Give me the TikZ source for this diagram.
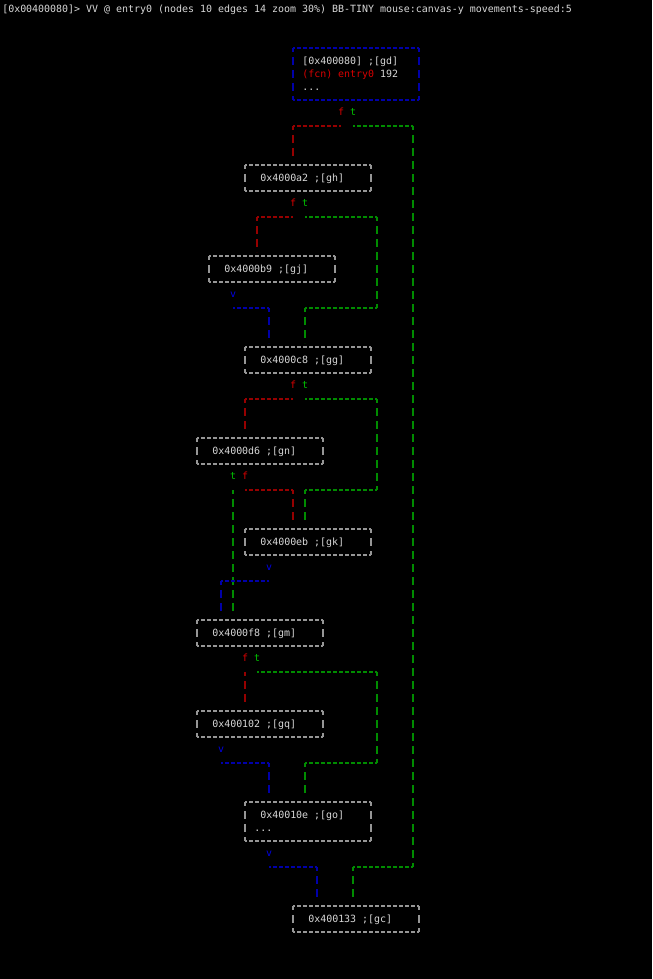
\documentclass[tikz,border=0pt]{standalone}
\usepackage{fontspec}
\setmonofont{DejaVu Sans Mono}
\usetikzlibrary{calc}
\definecolor{txtc}{RGB}{215,215,215}
\definecolor{boxc}{RGB}{150,150,150}
\definecolor{flc}{RGB}{150,0,0}
\definecolor{ftc}{RGB}{215,0,0}
\definecolor{tlc}{RGB}{0,140,0}
\definecolor{ttc}{RGB}{0,190,0}
\definecolor{vlc}{RGB}{0,0,170}
\definecolor{vtc}{RGB}{0,0,230}
\newcommand{\tfont}{\ttfamily\fontsize{7.47pt}{9pt}\selectfont}

\begin{document}
\begin{tikzpicture}[x=4.5pt, y=-9.75pt,
  lbl/.style={anchor=mid west, inner sep=0pt, yshift=-0.75pt, font=\tfont, text=txtc},
  tag/.style={anchor=mid, inner sep=0pt, font=\tfont},
  ft/.style={tag, text=ftc}, tt/.style={tag, text=ttc}, vt/.style={tag, text=vtc},
  blk/.style={anchor=north west, inner sep=0pt, outer sep=0pt,
    minimum width=94.5pt, minimum height=19.5pt},
  hd/.style={dash pattern=on 3pt off 1.5pt, dash phase=1.5pt},
  vd/.style={dash pattern=on 6pt off 3.75pt, dash phase=3pt},
  toblk/.style={shorten >=3pt},
  fe/.style={flc, line width=0.8pt},
  te/.style={tlc, line width=0.8pt},
  ve/.style={vlc, line width=0.8pt},
  bx/.style={line width=0.8pt}]

\useasboundingbox (-0.333,-0.692) rectangle (108.333,74.615);
\fill[black] (-0.333,-0.692) rectangle (108.333,74.615);

\node[lbl] (hdr) at (0,0) {[0x00400080]> VV @ entry0 (nodes 10 edges 14 zoom 30\%) BB-TINY mouse:canvas-y movements-speed:5};

% ---- blocks ----
\node[blk, minimum height=39pt] (gd) at (48.5,3) {};
\node[blk] (gh) at (40.5,12) {};
\node[blk] (gj) at (34.5,19) {};
\node[blk] (gg) at (40.5,26) {};
\node[blk] (gn) at (32.5,33) {};
\node[blk] (gk) at (40.5,40) {};
\node[blk] (gm) at (32.5,47) {};
\node[blk] (gq) at (32.5,54) {};
\node[blk, minimum height=29.25pt] (go) at (40.5,61) {};
\node[blk] (gc) at (48.5,69) {};

\foreach \b/\c in {gd/vlc, gh/boxc, gj/boxc, gg/boxc, gn/boxc, gk/boxc,
                   gm/boxc, gq/boxc, go/boxc, gc/boxc} {
  \draw[bx, \c, hd] (\b.north west) -- (\b.north east) (\b.south west) -- (\b.south east);
  \draw[bx, \c, vd] (\b.north west) -- (\b.south west) (\b.north east) -- (\b.south east);
}

\node[lbl] (gdl1) at (50,4) {[0x400080] ;[gd]};
\node[lbl] (gdl2) at (50,5) {\textcolor{ftc}{(fcn) entry0} 192};
\node[lbl] (gdl3) at (50,6) {...};
\node[lbl] (ghl) at (43,13) {0x4000a2 ;[gh]};
\node[lbl] (gjl) at (37,20) {0x4000b9 ;[gj]};
\node[lbl] (ggl) at (43,27) {0x4000c8 ;[gg]};
\node[lbl] (gnl) at (35,34) {0x4000d6 ;[gn]};
\node[lbl] (gkl) at (43,41) {0x4000eb ;[gk]};
\node[lbl] (gml) at (35,48) {0x4000f8 ;[gm]};
\node[lbl] (gql) at (35,55) {0x400102 ;[gq]};
\node[lbl] (gol1) at (43,62) {0x40010e ;[go]};
\node[lbl] (gol2) at (42,63) {...};
\node[lbl] (gcl) at (51,70) {0x400133 ;[gc]};

% ---- branch tags ----
\node[ft] (fgd) at (56.5,8) {f};
\node[tt] (tgd) at (58.5,8) {t};
\node[ft] (fgh) at (48.5,15) {f};
\node[tt] (tgh) at (50.5,15) {t};
\node[vt] (vgj) at (38.5,22) {v};
\node[ft] (fgg) at (48.5,29) {f};
\node[tt] (tgg) at (50.5,29) {t};
\node[tt] (tgn) at (38.5,36) {t};
\node[ft] (fgn) at (40.5,36) {f};
\node[vt] (vgk) at (44.5,43) {v};
\node[ft] (fgm) at (40.5,50) {f};
\node[tt] (tgm) at (42.5,50) {t};
\node[vt] (vgq) at (36.5,57) {v};
\node[vt] (vgo) at (44.5,65) {v};

% ---- edges ----
\draw[fe, hd] (fgd.mid) ++(0,1) -- ++(-8,0) coordinate (e1);
\draw[fe, vd, toblk] (e1) -- (e1 |- gh.north);

\draw[te, hd] (tgd.mid) ++(0,1) -- ++(10,0) coordinate (e2a);
\draw[te, vd] (e2a) -- ++(0,57) coordinate (e2b);
\draw[te, hd] (e2b) -- ++(-10,0) coordinate (e2c);
\draw[te, vd, toblk] (e2c) -- (e2c |- gc.north);

\draw[fe, hd] (fgh.mid) ++(0,1) -- ++(-6,0) coordinate (e3);
\draw[fe, vd, toblk] (e3) -- (e3 |- gj.north);

\draw[te, hd] (tgh.mid) ++(0,1) -- ++(12,0) coordinate (e4a);
\draw[te, vd] (e4a) -- ++(0,7) coordinate (e4b);
\draw[te, hd] (e4b) -- ++(-12,0) coordinate (e4c);
\draw[te, vd, toblk] (e4c) -- (e4c |- gg.north);

\draw[ve, hd] (vgj.mid) ++(0,1) -- ++(6,0) coordinate (e5);
\draw[ve, vd, toblk] (e5) -- (e5 |- gg.north);

\draw[fe, hd] (fgg.mid) ++(0,1) -- ++(-8,0) coordinate (e6);
\draw[fe, vd, toblk] (e6) -- (e6 |- gn.north);

\draw[te, hd] (tgg.mid) ++(0,1) -- ++(12,0) coordinate (e7a);
\draw[te, vd] (e7a) -- ++(0,7) coordinate (e7b);
\draw[te, hd] (e7b) -- ++(-12,0) coordinate (e7c);
\draw[te, vd, toblk] (e7c) -- (e7c |- gk.north);

\draw[fe, hd] (fgn.mid) ++(0,1) -- ++(8,0) coordinate (e8);
\draw[fe, vd, toblk] (e8) -- (e8 |- gk.north);

\draw[te, vd, toblk] (tgn.mid) ++(0,1) coordinate (e9) -- (e9 |- gm.north);

\draw[ve, hd] (vgk.mid) ++(0,1) -- ++(-8,0) coordinate (e10);
\draw[ve, vd, toblk] (e10) -- (e10 |- gm.north);

\draw[fe, vd, toblk] (fgm.mid) ++(0,1) coordinate (e11) -- (e11 |- gq.north);

\draw[te, hd] (tgm.mid) ++(0,1) -- ++(20,0) coordinate (e12a);
\draw[te, vd] (e12a) -- ++(0,7) coordinate (e12b);
\draw[te, hd] (e12b) -- ++(-12,0) coordinate (e12c);
\draw[te, vd, toblk] (e12c) -- (e12c |- go.north);

\draw[ve, hd] (vgq.mid) ++(0,1) -- ++(8,0) coordinate (e13);
\draw[ve, vd, toblk] (e13) -- (e13 |- go.north);

\draw[ve, hd] (vgo.mid) ++(0,1) -- ++(8,0) coordinate (e14);
\draw[ve, vd, toblk] (e14) -- (e14 |- gc.north);

\end{tikzpicture}
\end{document}
